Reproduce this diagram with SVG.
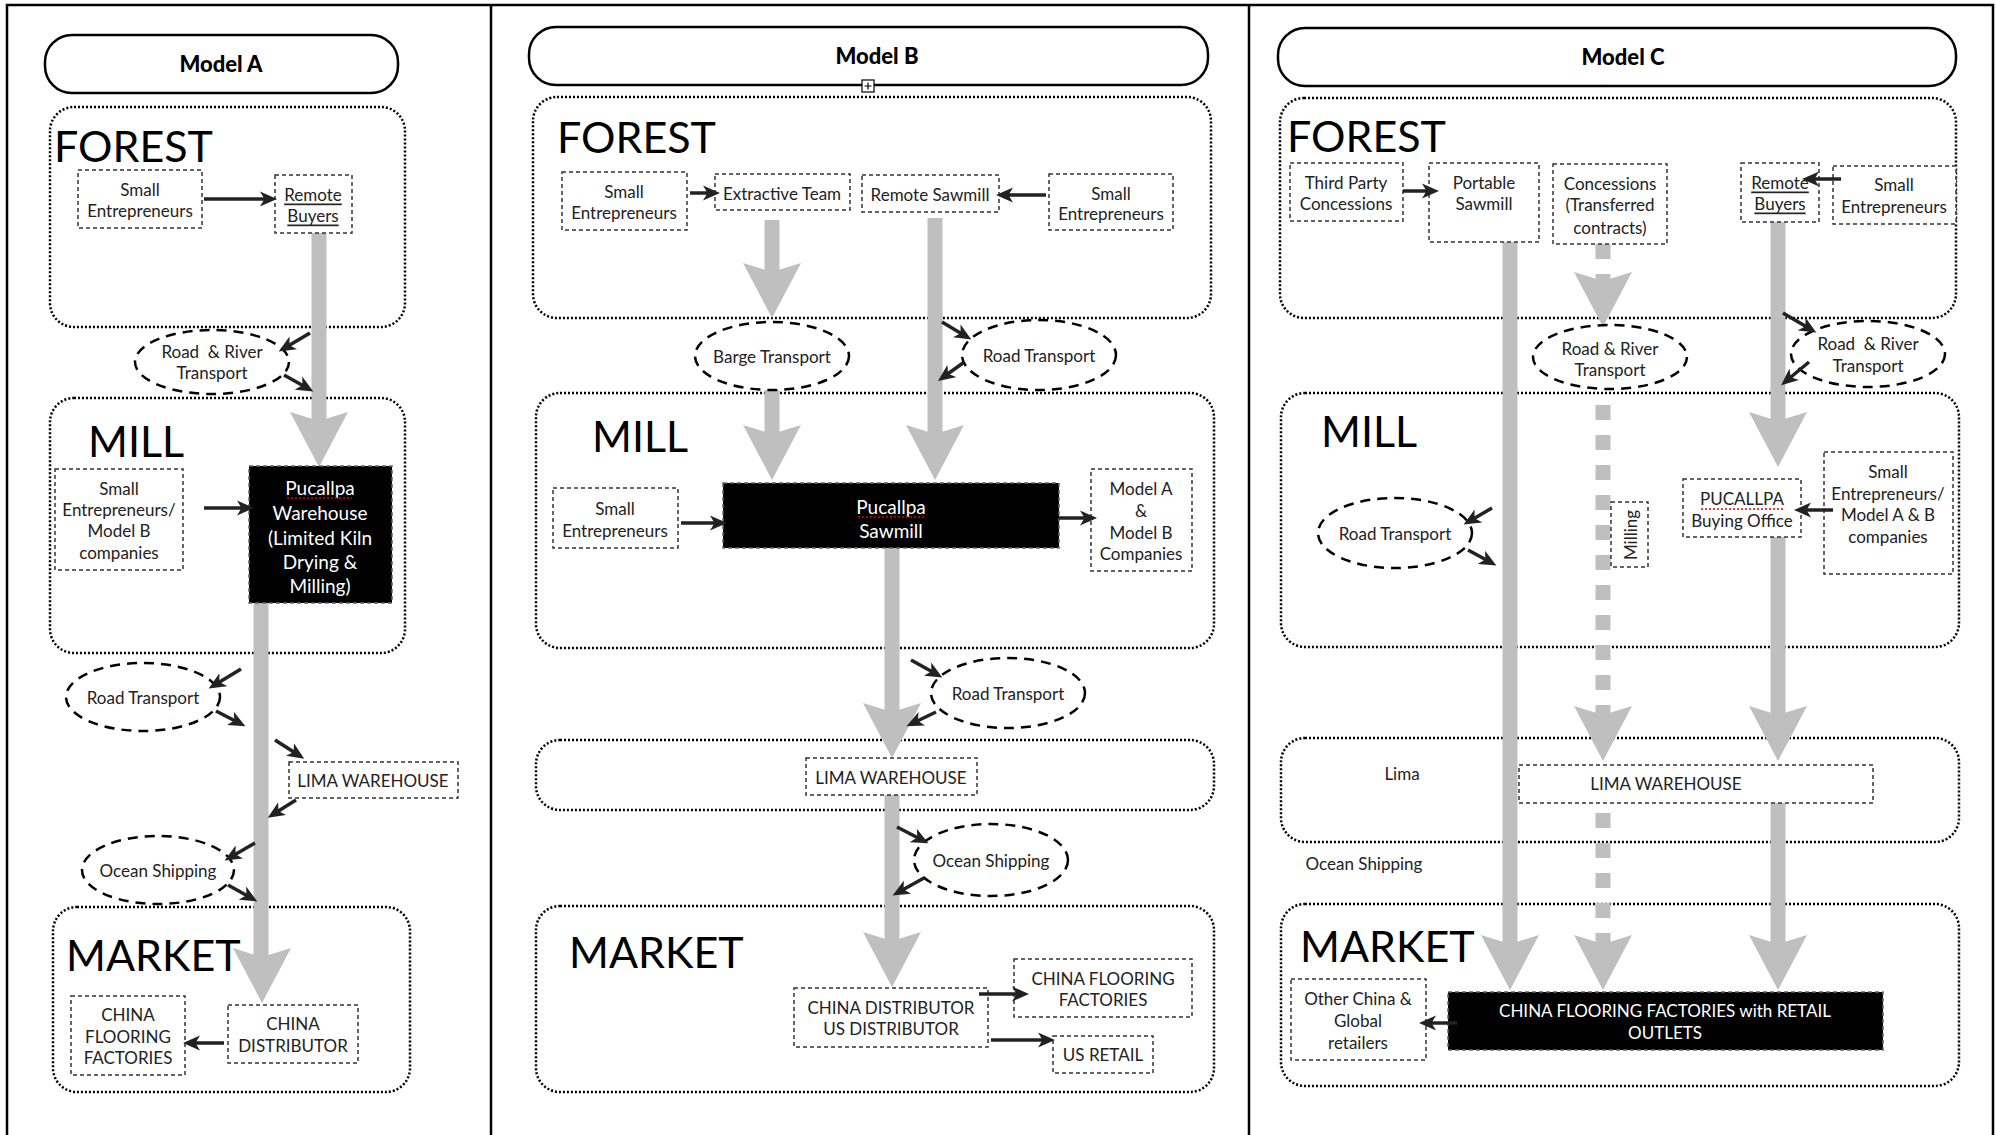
<svg xmlns="http://www.w3.org/2000/svg" xmlns:xlink="http://www.w3.org/1999/xlink" width="1996" height="1135" viewBox="0 0 1996 1135">
<style>
.frame{stroke:#000;stroke-width:2.5;fill:none}
.title{fill:#fff;stroke:#000;stroke-width:2.5}
.tt{font-family:Lato,"Liberation Sans",sans-serif;font-weight:900;font-size:22px;text-anchor:middle;fill:#000}
.zone{fill:none;stroke:#000;stroke-width:2.5;stroke-dasharray:2 2}
.zl{font-family:Lato,"Liberation Sans",sans-serif;font-size:43px;fill:#000}
.box{fill:#fff;stroke:#333;stroke-width:1.5;stroke-dasharray:4 3}
.bbox{fill:#000;stroke:#666;stroke-width:1.5;stroke-dasharray:4 3}
.ell{fill:none;stroke:#000;stroke-width:2.5;stroke-dasharray:10 7}
.t{font-family:Lato,"Liberation Sans",sans-serif;font-size:17px;text-anchor:middle;fill:#222;dominant-baseline:central}
.tw{font-family:Lato,"Liberation Sans",sans-serif;font-size:19px;text-anchor:middle;fill:#fff;dominant-baseline:central}
.u{text-decoration:underline}
.shaft{stroke:#bfbfbf;stroke-width:15;fill:none}
.dshaft{stroke:#bfbfbf;stroke-width:15;fill:none;stroke-dasharray:15 15}
.arr{stroke:#222;stroke-width:3.5;fill:none;marker-end:url(#ah)}
.sq{stroke:#d00;stroke-width:1.5;stroke-dasharray:2 2;fill:none}
</style>
<defs>
<marker id="ah" markerUnits="userSpaceOnUse" markerWidth="18" markerHeight="16" refX="12" refY="8" orient="auto">
<path d="M0,0.5 L17,8 L0,15.5 L4.5,8 Z" fill="#222"/>
</marker>
<path id="gh" d="M0,0 L-29,-55 L0,-46 L29,-55 Z" fill="#bfbfbf"/>
</defs>

<g id="frame">
<path class="frame" d="M7,1135 V5 H1993 V1135 M491,5 V1135 M1249,5 V1135"/>
</g>

<!-- ============ zones and titles ============ -->
<g id="modelA-title"><rect class="title" x="45" y="35" width="353" height="58" rx="27"/><text class="tt" x="221" y="72">Model A</text></g>
<g id="modelA-forest"><rect class="zone" x="50" y="107" width="355" height="220" rx="24"/><text class="zl" x="54" y="162">FOREST</text></g>
<g id="modelA-mill"><rect class="zone" x="50" y="398" width="355" height="255" rx="24"/><text class="zl" x="88" y="457">MILL</text></g>
<g id="modelA-market"><rect class="zone" x="53" y="907" width="357" height="185" rx="24"/><text class="zl" x="66" y="971">MARKET</text></g>

<g id="modelB-title"><rect class="title" x="529" y="27" width="679" height="58" rx="27"/><text class="tt" x="877" y="64">Model B</text>
<rect x="862" y="80" width="12" height="12" fill="#fff" stroke="#000" stroke-width="1.2"/><path d="M864.5,86 H871.5 M868,82.5 V89.5" stroke="#000" stroke-width="1.2"/></g>
<g id="modelB-forest"><rect class="zone" x="533" y="97" width="678" height="221" rx="24"/><text class="zl" x="557" y="153">FOREST</text></g>
<g id="modelB-mill"><rect class="zone" x="536" y="393" width="678" height="255" rx="24"/><text class="zl" x="592" y="452">MILL</text></g>
<g id="modelB-lima"><rect class="zone" x="536" y="740" width="678" height="70" rx="24"/></g>
<g id="modelB-market"><rect class="zone" x="536" y="906" width="678" height="186" rx="24"/><text class="zl" x="569" y="968">MARKET</text></g>

<g id="modelC-title"><rect class="title" x="1278" y="28" width="678" height="58" rx="27"/><text class="tt" x="1623" y="65">Model C</text></g>
<g id="modelC-forest"><rect class="zone" x="1280" y="98" width="676" height="220" rx="24"/><text class="zl" x="1287" y="152">FOREST</text></g>
<g id="modelC-mill"><rect class="zone" x="1281" y="393" width="678" height="254" rx="24"/><text class="zl" x="1321" y="447">MILL</text></g>
<g id="modelC-lima"><rect class="zone" x="1281" y="738" width="678" height="104" rx="24"/><text class="t" x="1402" y="773">Lima</text></g>
<g id="modelC-market"><rect class="zone" x="1281" y="904" width="678" height="182" rx="24"/><text class="zl" x="1300" y="962">MARKET</text></g>
<g id="C-ocean-label"><text class="t" x="1364" y="863">Ocean Shipping</text></g>

<!-- ============ flow arrows (gray) ============ -->
<g id="flows">
<line class="shaft" x1="319" y1="233" x2="319" y2="425"/><use xlink:href="#gh" x="319" y="467"/>
<line class="shaft" x1="261" y1="603" x2="261" y2="960"/><use xlink:href="#gh" x="262" y="1003"/>
<line class="shaft" x1="772" y1="220" x2="772" y2="275"/><use xlink:href="#gh" x="772" y="318"/>
<line class="shaft" x1="772" y1="390" x2="772" y2="437"/><use xlink:href="#gh" x="772" y="480"/>
<line class="shaft" x1="935" y1="218" x2="935" y2="437"/><use xlink:href="#gh" x="935" y="480"/>
<line class="shaft" x1="892" y1="548" x2="892" y2="715"/><use xlink:href="#gh" x="892" y="758"/>
<line class="shaft" x1="892" y1="795" x2="892" y2="945"/><use xlink:href="#gh" x="892" y="987"/>
<line class="shaft" x1="1510" y1="242" x2="1510" y2="947"/><use xlink:href="#gh" x="1510" y="990"/>
<line class="dshaft" x1="1603" y1="244" x2="1603" y2="285"/><use xlink:href="#gh" x="1603" y="327"/>
<line class="dshaft" x1="1603" y1="405" x2="1603" y2="718"/><use xlink:href="#gh" x="1603" y="761"/>
<line class="dshaft" x1="1603" y1="813" x2="1603" y2="947"/><use xlink:href="#gh" x="1603" y="990"/>
<line class="shaft" x1="1778" y1="222" x2="1778" y2="425"/><use xlink:href="#gh" x="1778" y="467"/>
<line class="shaft" x1="1778" y1="537" x2="1778" y2="718"/><use xlink:href="#gh" x="1778" y="761"/>
<line class="shaft" x1="1778" y1="803" x2="1778" y2="947"/><use xlink:href="#gh" x="1778" y="990"/>
</g>

<!-- ============ MODEL A nodes ============ -->
<g id="A-small-entrepreneurs"><rect class="box" x="78" y="170" width="124" height="58"/><text class="t" x="140" y="189">Small</text><text class="t" x="140" y="210">Entrepreneurs</text></g>
<g id="A-remote-buyers"><rect class="box" x="275" y="175" width="77" height="58"/><text class="t u" x="313" y="194">Remote</text><text class="t u" x="313" y="215">Buyers</text></g>
<g id="A-road-river"><ellipse class="ell" cx="212" cy="362" rx="77" ry="32"/><text class="t" x="212" y="351" xml:space="preserve">Road  &amp; River</text><text class="t" x="212" y="372">Transport</text></g>
<g id="A-small-mill"><rect class="box" x="55" y="469" width="128" height="101"/><text class="t" x="119" y="488">Small</text><text class="t" x="119" y="509">Entrepreneurs/</text><text class="t" x="119" y="530">Model B</text><text class="t" x="119" y="552">companies</text></g>
<g id="A-pucallpa"><rect class="bbox" x="249" y="466" width="143" height="137"/><text class="tw" x="320" y="487">Pucallpa</text><line class="sq" x1="287" y1="498" x2="352" y2="498"/><text class="tw" x="320" y="512">Warehouse</text><text class="tw" x="320" y="537">(Limited Kiln</text><text class="tw" x="320" y="561">Drying &amp;</text><text class="tw" x="320" y="585">Milling)</text></g>
<g id="A-road"><ellipse class="ell" cx="143" cy="697" rx="77" ry="34"/><text class="t" x="143" y="697">Road Transport</text></g>
<g id="A-lima"><rect class="box" x="289" y="762" width="169" height="36"/><text class="t" x="373" y="780">LIMA WAREHOUSE</text></g>
<g id="A-ocean"><ellipse class="ell" cx="158" cy="870" rx="76" ry="34"/><text class="t" x="158" y="870">Ocean Shipping</text></g>
<g id="A-china-flooring"><rect class="box" x="71" y="996" width="114" height="79"/><text class="t" x="128" y="1014">CHINA</text><text class="t" x="128" y="1036">FLOORING</text><text class="t" x="128" y="1057">FACTORIES</text></g>
<g id="A-china-distributor"><rect class="box" x="228" y="1005" width="130" height="58"/><text class="t" x="293" y="1023">CHINA</text><text class="t" x="293" y="1045">DISTRIBUTOR</text></g>

<!-- ============ MODEL B nodes ============ -->
<g id="B-small-entrepreneurs"><rect class="box" x="562" y="172" width="125" height="58"/><text class="t" x="624" y="191">Small</text><text class="t" x="624" y="212">Entrepreneurs</text></g>
<g id="B-extractive"><rect class="box" x="715" y="174" width="135" height="36"/><text class="t" x="782" y="193">Extractive Team</text></g>
<g id="B-remote-sawmill"><rect class="box" x="862" y="175" width="137" height="37"/><text class="t" x="930" y="194">Remote Sawmill</text></g>
<g id="B-small-entrepreneurs-2"><rect class="box" x="1049" y="174" width="124" height="56"/><text class="t" x="1111" y="193">Small</text><text class="t" x="1111" y="213">Entrepreneurs</text></g>
<g id="B-barge"><ellipse class="ell" cx="772" cy="356" rx="77" ry="34"/><text class="t" x="772" y="356">Barge Transport</text></g>
<g id="B-road-1"><ellipse class="ell" cx="1039" cy="355" rx="77" ry="35"/><text class="t" x="1039" y="355">Road Transport</text></g>
<g id="B-small-mill"><rect class="box" x="553" y="488" width="125" height="60"/><text class="t" x="615" y="508">Small</text><text class="t" x="615" y="530">Entrepreneurs</text></g>
<g id="B-pucallpa"><rect class="bbox" x="723" y="483" width="336" height="65"/><text class="tw" x="891" y="506">Pucallpa</text><line class="sq" x1="858" y1="517" x2="924" y2="517"/><text class="tw" x="891" y="530">Sawmill</text></g>
<g id="B-modelAB"><rect class="box" x="1091" y="469" width="101" height="102"/><text class="t" x="1141" y="488">Model A</text><text class="t" x="1141" y="510">&amp;</text><text class="t" x="1141" y="532">Model B</text><text class="t" x="1141" y="553">Companies</text></g>
<g id="B-road-2"><ellipse class="ell" cx="1008" cy="693" rx="77" ry="35"/><text class="t" x="1008" y="693">Road Transport</text></g>
<g id="B-lima-warehouse"><rect class="box" x="806" y="758" width="171" height="37"/><text class="t" x="891" y="777">LIMA WAREHOUSE</text></g>
<g id="B-ocean"><ellipse class="ell" cx="991" cy="860" rx="77" ry="36"/><text class="t" x="991" y="860">Ocean Shipping</text></g>
<g id="B-distributor"><rect class="box" x="794" y="988" width="194" height="59"/><text class="t" x="891" y="1007">CHINA DISTRIBUTOR</text><text class="t" x="891" y="1028">US DISTRIBUTOR</text></g>
<g id="B-china-flooring"><rect class="box" x="1014" y="959" width="178" height="58"/><text class="t" x="1103" y="978">CHINA FLOORING</text><text class="t" x="1103" y="999">FACTORIES</text></g>
<g id="B-us-retail"><rect class="box" x="1053" y="1036" width="100" height="37"/><text class="t" x="1103" y="1054">US RETAIL</text></g>

<!-- ============ MODEL C nodes ============ -->
<g id="C-third-party"><rect class="box" x="1290" y="163" width="113" height="58"/><text class="t" x="1346" y="182">Third Party</text><text class="t" x="1346" y="203">Concessions</text></g>
<g id="C-portable"><rect class="box" x="1429" y="163" width="110" height="79"/><text class="t" x="1484" y="182">Portable</text><text class="t" x="1484" y="203">Sawmill</text></g>
<g id="C-concessions"><rect class="box" x="1553" y="164" width="114" height="80"/><text class="t" x="1610" y="183">Concessions</text><text class="t" x="1610" y="204">(Transferred</text><text class="t" x="1610" y="227">contracts)</text></g>
<g id="C-remote-buyers"><rect class="box" x="1741" y="163" width="78" height="59"/><text class="t u" x="1780" y="182">Remote</text><text class="t u" x="1780" y="203">Buyers</text></g>
<g id="C-small-entrepreneurs"><rect class="box" x="1833" y="166" width="123" height="58"/><text class="t" x="1894" y="184">Small</text><text class="t" x="1894" y="206">Entrepreneurs</text></g>
<g id="C-road-river-1"><ellipse class="ell" cx="1610" cy="357" rx="77" ry="32"/><text class="t" x="1610" y="348">Road &amp; River</text><text class="t" x="1610" y="369">Transport</text></g>
<g id="C-road-river-2"><ellipse class="ell" cx="1868" cy="354" rx="77" ry="33"/><text class="t" x="1868" y="343" xml:space="preserve">Road  &amp; River</text><text class="t" x="1868" y="365">Transport</text></g>
<g id="C-road"><ellipse class="ell" cx="1395" cy="533" rx="77" ry="35"/><text class="t" x="1395" y="533">Road Transport</text></g>
<g id="C-milling"><rect class="box" x="1611" y="502" width="37" height="65"/><text class="t" x="1630" y="535" transform="rotate(-90 1630 535)">Milling</text></g>
<g id="C-pucallpa"><rect class="box" x="1683" y="479" width="118" height="58"/><text class="t" x="1742" y="498">PUCALLPA</text><line class="sq" x1="1701" y1="509" x2="1783" y2="509"/><text class="t" x="1742" y="520">Buying Office</text></g>
<g id="C-small-mill"><rect class="box" x="1824" y="452" width="129" height="122"/><text class="t" x="1888" y="471">Small</text><text class="t" x="1888" y="493">Entrepreneurs/</text><text class="t" x="1888" y="514">Model A &amp; B</text><text class="t" x="1888" y="536">companies</text></g>
<g id="C-lima-warehouse"><rect class="box" x="1519" y="765" width="354" height="38"/><text class="t" x="1666" y="783">LIMA WAREHOUSE</text></g>
<g id="C-other-china"><rect class="box" x="1291" y="979" width="135" height="81"/><text class="t" x="1358" y="998">Other China &amp;</text><text class="t" x="1358" y="1020">Global</text><text class="t" x="1358" y="1042">retailers</text></g>
<g id="C-china-flooring"><rect class="bbox" x="1448" y="992" width="435" height="58"/><text class="tw" x="1665" y="1010" style="font-size:17px">CHINA FLOORING FACTORIES with RETAIL</text><text class="tw" x="1665" y="1032" style="font-size:17px">OUTLETS</text></g>

<!-- ============ small connectors ============ -->
<g id="connectors">
<line class="arr" x1="204" y1="199" x2="272" y2="199"/>
<line class="arr" x1="310" y1="333" x2="283" y2="349"/>
<line class="arr" x1="284" y1="375" x2="309" y2="389"/>
<line class="arr" x1="204" y1="508" x2="249" y2="508"/>
<line class="arr" x1="241" y1="669" x2="213" y2="686"/>
<line class="arr" x1="216" y1="711" x2="241" y2="724"/>
<line class="arr" x1="275" y1="740" x2="300" y2="756"/>
<line class="arr" x1="296" y1="800" x2="272" y2="815"/>
<line class="arr" x1="255" y1="843" x2="229" y2="858"/>
<line class="arr" x1="228" y1="885" x2="253" y2="899"/>
<line class="arr" x1="224" y1="1043" x2="188" y2="1043"/>
<line class="arr" x1="690" y1="193" x2="715" y2="193"/>
<line class="arr" x1="1046" y1="195" x2="1001" y2="195"/>
<line class="arr" x1="942" y1="322" x2="967" y2="337"/>
<line class="arr" x1="963" y1="363" x2="942" y2="378"/>
<line class="arr" x1="681" y1="523" x2="722" y2="523"/>
<line class="arr" x1="1059" y1="518" x2="1092" y2="518"/>
<line class="arr" x1="911" y1="660" x2="938" y2="675"/>
<line class="arr" x1="936" y1="712" x2="911" y2="724"/>
<line class="arr" x1="897" y1="827" x2="924" y2="841"/>
<line class="arr" x1="924" y1="878" x2="897" y2="893"/>
<line class="arr" x1="979" y1="994" x2="1024" y2="994"/>
<line class="arr" x1="991" y1="1040" x2="1050" y2="1040"/>
<line class="arr" x1="1403" y1="191" x2="1434" y2="191"/>
<line class="arr" x1="1841" y1="179" x2="1807" y2="179"/>
<line class="arr" x1="1783" y1="313" x2="1812" y2="330"/>
<line class="arr" x1="1809" y1="362" x2="1785" y2="382"/>
<line class="arr" x1="1492" y1="508" x2="1468" y2="522"/>
<line class="arr" x1="1468" y1="550" x2="1492" y2="563"/>
<line class="arr" x1="1833" y1="510" x2="1799" y2="510"/>
<line class="arr" x1="1457" y1="1023" x2="1424" y2="1023"/>
</g>
</svg>
